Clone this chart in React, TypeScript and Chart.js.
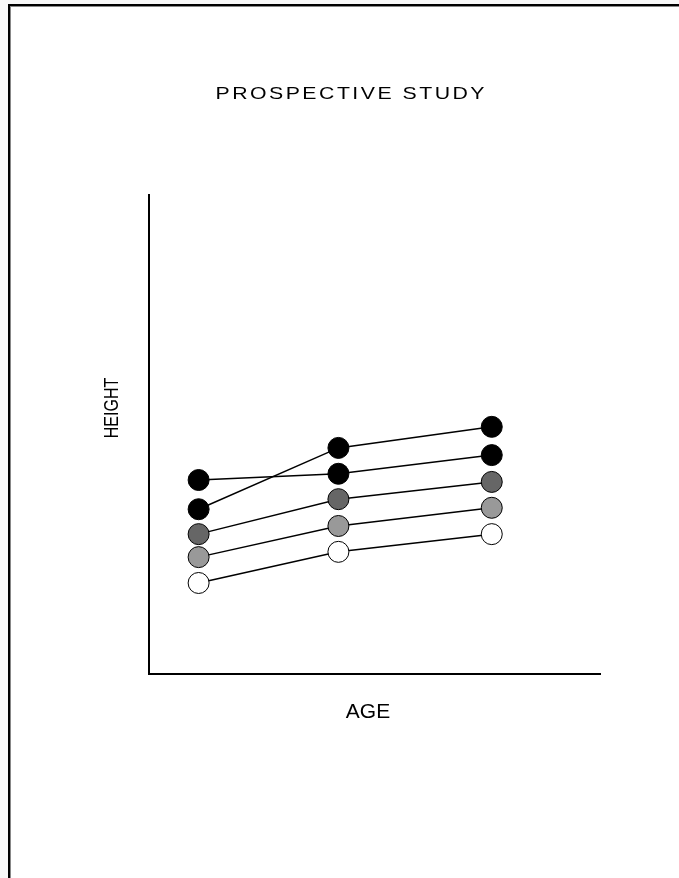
import React, { useEffect, useRef } from "react";
import { Chart, registerables } from "chart.js";

Chart.register(...registerables);

// Ages (x positions, arbitrary units on a 0..10 axis)
const ages = [1.1, 4.2, 7.6];

// Heights (arbitrary units on a 0..100 axis) for each cohort
const cohort1 = [40.5, 41.8, 45.7];
const cohort2 = [34.4, 47.2, 51.6];
const cohort3 = [29.2, 36.5, 40.1];
const cohort4 = [24.4, 30.9, 34.7];
const cohort5 = [19.0, 25.5, 29.2];

const seriesValues = [cohort1, cohort2, cohort3, cohort4, cohort5];
const seriesFills = ["#000000", "#000000", "#666666", "#999999", "#ffffff"];

const titleText = "PROSPECTIVE STUDY";
const xLabel = "AGE";
const yLabel = "HEIGHT";

const FONT = '"Liberation Sans", Arial, sans-serif';

function drawLabel(
  ctx: CanvasRenderingContext2D,
  text: string,
  x: number,
  y: number,
  fontPx: number,
  sx: number,
  spacing: number,
  rot: number
) {
  ctx.save();
  ctx.translate(x, y);
  ctx.rotate(rot);
  ctx.scale(sx, 1);
  ctx.font = `${fontPx}px ${FONT}`;
  (ctx as any).letterSpacing = `${spacing}px`;
  ctx.textAlign = "left";
  ctx.textBaseline = "alphabetic";
  ctx.fillStyle = "#000";
  const w = ctx.measureText(text).width - spacing;
  ctx.fillText(text, -w / 2, 0);
  ctx.restore();
}

const textPlugin = {
  id: "studyText",
  afterDraw(chart: any) {
    const ctx = chart.ctx as CanvasRenderingContext2D;
    drawLabel(ctx, titleText, 350, 99, 17, 1.25, 2, 0);
    drawLabel(ctx, xLabel, 368, 718, 20, 1.05, 0, 0);
    drawLabel(ctx, yLabel, 118, 408, 20, 0.8, 0, -Math.PI / 2);
  },
};

export default function App() {
  const canvasRef = useRef<HTMLCanvasElement | null>(null);

  useEffect(() => {
    if (!canvasRef.current) return;
    const chart = new Chart(canvasRef.current, {
      type: "line",
      data: {
        datasets: seriesValues.map((vals, i) => ({
          label: `Cohort ${i + 1}`,
          data: ages.map((a, j) => ({ x: a, y: vals[j] })),
          borderColor: "#000",
          borderWidth: 1.5,
          backgroundColor: seriesFills[i],
          pointBackgroundColor: seriesFills[i],
          pointBorderColor: "#000",
          pointBorderWidth: 1,
          pointRadius: 10.5,
          pointHoverRadius: 10.5,
          fill: false,
          tension: 0,
        })),
      },
      options: {
        responsive: false,
        animation: false,
        events: [],
        layout: { padding: { left: 149, top: 195, right: 79, bottom: 204 } },
        plugins: {
          legend: { display: false },
          tooltip: { enabled: false },
          title: { display: false },
        },
        scales: {
          x: {
            type: "linear",
            min: 0,
            max: 10,
            grid: { display: false, drawTicks: false, tickLength: 0 },
            border: { display: true, color: "#000", width: 2 },
            ticks: { display: false },
            title: { display: false },
          },
          y: {
            type: "linear",
            min: 0,
            max: 100,
            grid: { display: false, drawTicks: false, tickLength: 0 },
            border: { display: true, color: "#000", width: 2 },
            ticks: { display: false },
            title: { display: false },
          },
        },
      },
      plugins: [textPlugin],
    });
    return () => chart.destroy();
  }, []);

  return (
    <div
      style={{
        position: "absolute",
        left: 0,
        top: 0,
        width: 679,
        height: 878,
        background: "#f8f8f8",
        overflow: "hidden",
      }}
    >
      <div
        style={{
          position: "absolute",
          left: 8,
          top: 4,
          width: 720,
          height: 920,
          background: "#ffffff",
          borderLeft: "2px solid #000",
          borderTop: "2px solid #000",
          boxShadow: "inset 1px 1px 0 #888",
        }}
      />
      <canvas
        ref={canvasRef}
        width={679}
        height={878}
        style={{ position: "absolute", left: 0, top: 0, width: 679, height: 878 }}
      />
    </div>
  );
}
